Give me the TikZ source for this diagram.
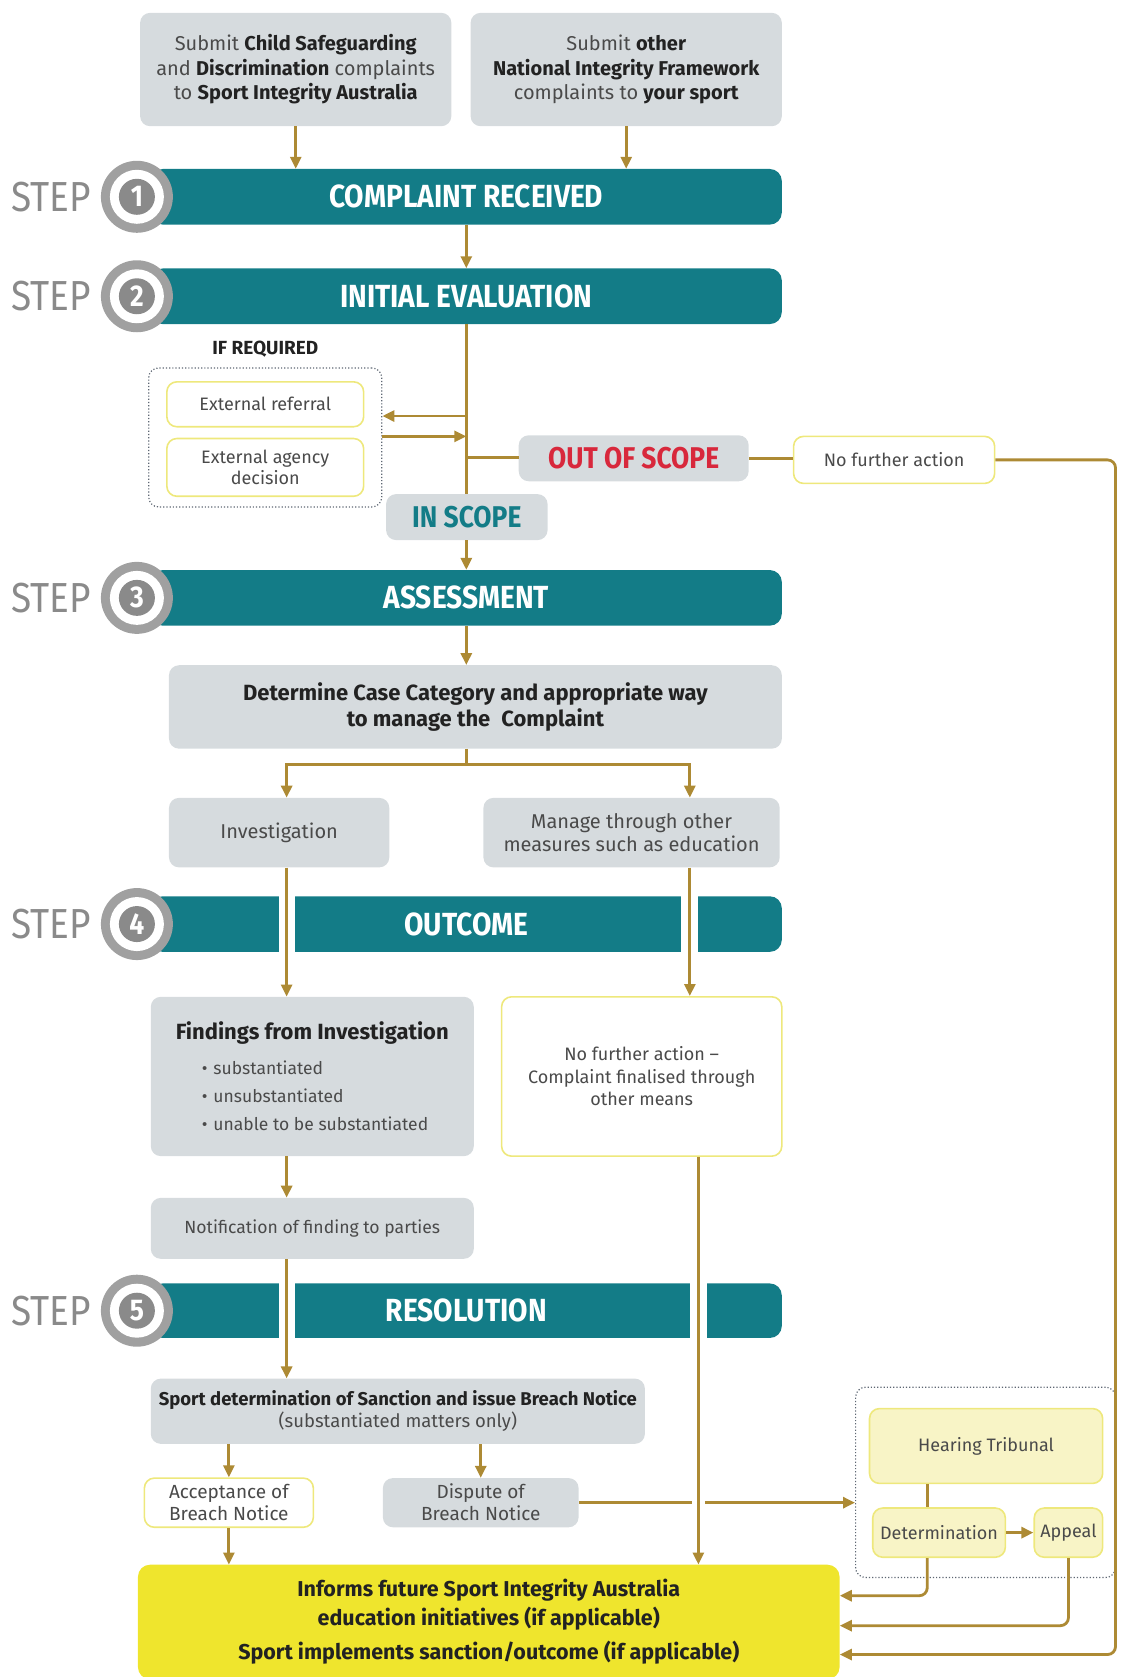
\documentclass[tikz,border=0pt]{standalone}
\usepackage{fontspec}
\setmainfont{Fira Sans}
\newfontfamily\condf{Fira Sans}[FakeStretch=0.88]
\usetikzlibrary{arrows.meta}
\definecolor{teal1}{HTML}{137C87}
\definecolor{boxgray}{HTML}{D6DBDE}
\definecolor{gold}{HTML}{AD8A34}
\definecolor{ybord}{HTML}{EEE87C}
\definecolor{yfill}{HTML}{EFE52D}
\definecolor{lyfill}{HTML}{F8F4C6}
\definecolor{ringgray}{HTML}{A0A0A0}
\definecolor{diskgray}{HTML}{8A8A8A}
\definecolor{stepgray}{HTML}{8A8A8A}
\definecolor{txt}{HTML}{4A4A4A}
\definecolor{txtd}{HTML}{222222}
\definecolor{oosred}{HTML}{D8283C}
\definecolor{dotc}{HTML}{5E6773}
\newcommand{\fs}[2]{\fontsize{#1}{#2}\selectfont}
\newcommand{\bt}[1]{{\bfseries\color{txtd}#1}}
\begin{document}
\begin{tikzpicture}[x=1.0697pt,y=-1.0697pt,
  corners/.style args={#1/#2/#3/#4}{minimum width={(#3-#1)*1.0697pt}, minimum height={(#4-#2)*1.0697pt}, at={({(#1+#3)/2},{(#2+#4)/2})}},
  gbox/.style={fill=boxgray, rounded corners=10pt, inner sep=0pt, align=center, text=txt},
  ybox/.style={draw=ybord, line width=1.6pt, fill=white, rounded corners=10pt, inner sep=0pt, align=center, text=txt},
  lybox/.style={draw=ybord, line width=1.6pt, fill=lyfill, rounded corners=10pt, inner sep=0pt, align=center, text=txt, font=\fs{18}{22}},
  bar/.style={fill=teal1, rounded corners=12pt, inner sep=0pt, text=white, font=\condf\fs{32}{36}\bfseries},
  conn/.style={draw=gold, line width=2.8pt},
  arr/.style={conn, -{Triangle[length=12pt,width=11pt]}},
  dotbox/.style={draw=dotc, dotted, line width=1.2pt, rounded corners=10pt, inner sep=0pt},
  ringo/.style={circle, fill=ringgray, minimum size=72pt, inner sep=0pt},
  ringw/.style={circle, fill=white, minimum size=54pt, inner sep=0pt},
  ringi/.style={circle, fill=diskgray, minimum size=36pt, inner sep=0pt, text=white, font=\condf\fs{30}{30}\bfseries},
  steptxt/.style={text=stepgray, font=\condf\fs{42}{46}, inner sep=0pt}
]
\useasboundingbox (0,0) rectangle (1048,1568);

% top boxes
\node[gbox, corners=131/12/422/118, font=\fs{20}{24.5}] (s1) {Submit \bt{Child Safeguarding}\\and \bt{Discrimination} complaints\\to \bt{Sport Integrity Australia}};
\node[gbox, corners=440/12/731/118, font=\fs{20}{24.5}] (s2) {Submit \bt{other}\\\bt{National Integrity Framework}\\complaints to \bt{your sport}};

% bars
\node[bar, corners=141/158/731/210] (b1) {COMPLAINT RECEIVED};
\node[bar, corners=141/251/731/303] (b2) {INITIAL EVALUATION};
\node[bar, corners=141/533/731/585] (b3) {ASSESSMENT};
\node[bar, corners=141/838/731/890] (b4) {OUTCOME};
\node[bar, corners=141/1200/731/1251] (b5) {RESOLUTION};

% gaps in bars 4 and 5
\fill[white] (261,836) rectangle (276,892);
\fill[white] (637,836) rectangle (653,892);
\fill[white] (261,1198) rectangle (276,1253);
\fill[white] (645,1198) rectangle (661,1253);

% step badges
\foreach \n/\y in {1/184,2/277,3/559,4/864,5/1225.5}{
  \node[steptxt] (st\n) at (48,\y) {STEP};
  \node[ringo] (co\n) at (128,\y) {};
  \node[ringw] (cw\n) at (128,\y) {};
  \node[ringi] (ci\n) at (128,\y) {\n};
}

% step 2 area
\node[font=\fs{19}{22}\bfseries, text=txtd] (ifr) at (248,326) {IF REQUIRED};
\node[dotbox, corners=139/344/357/474] (dot1) {};
\node[ybox, corners=156/357/340/399, font=\fs{18}{22}] (ext1) {External referral};
\node[ybox, corners=156/410/340/464, font=\fs{18}{21}] (ext2) {External agency\\decision};
\node[gbox, corners=485/407/700/450, font=\condf\fs{30}{32}\bfseries, text=oosred] (oos) {OUT OF SCOPE};
\node[ybox, corners=742/408/930/452, font=\fs{18}{22}] (nfa) {No further action};
\node[gbox, corners=361/462/512/505, font=\condf\fs{30}{32}\bfseries, text=teal1] (ins) {IN SCOPE};

% step 3 area
\node[gbox, corners=158/622/731/700, font=\fs{22}{26}\bfseries, text=txtd] (det) {Determine Case Category and appropriate way\\to manage the\enspace Complaint};
\node[gbox, corners=158/746/364/811, font=\fs{20}{24}] (inv) {Investigation};
\node[gbox, corners=452/746/729/811, font=\fs{20}{23.5}] (man) {Manage through other\\measures such as education};

% step 4 area
\node[gbox, corners=141/932/443/1081, align=left, font=\fs{17.5}{28}] (find) {{\fs{22}{26}\bfseries\color{txtd}Findings from Investigation}\\[7pt]
\hspace*{26pt}\textbullet\hspace{6pt}substantiated\\
\hspace*{26pt}\textbullet\hspace{6pt}unsubstantiated\\
\hspace*{26pt}\textbullet\hspace{6pt}unable to be substantiated};
\node[ybox, corners=469/932/731/1081, font=\fs{18}{22.5}] (nfa2) {No further action --\\Complaint finalised through\\other means};
\node[gbox, corners=141/1120/443/1177, font=\fs{17.6}{22}] (notif) {Notification of finding to parties};

% step 5 area
\node[gbox, corners=141/1289/603/1350, font=\fs{18.5}{22}] (sport) {\bt{Sport determination of Sanction and issue Breach Notice}\\(substantiated matters only)};
\node[ybox, corners=135/1382/293/1428, font=\fs{19}{22}] (acc) {Acceptance of\\Breach Notice};
\node[gbox, corners=358/1382/541/1428, font=\fs{19}{22}] (disp) {Dispute of\\Breach Notice};
\node[fill=yfill, rounded corners=12pt, inner sep=0pt, corners=129/1463/785/1570, align=center, font=\fs{21.5}{29}\bfseries, text=txtd] (yel) {Informs future Sport Integrity Australia\\education initiatives (if applicable)\\[5pt]Sport implements sanction/outcome (if applicable)};

\node[dotbox, corners=800/1297/1043/1475] (dot2) {};
\node[lybox, corners=813/1317/1031/1387] (hear) {Hearing Tribunal};
\node[lybox, corners=816/1410/940/1456] (dtm) {Determination};
\node[lybox, corners=967/1410/1031/1456] (app) {Appeal};

% helper coordinates
\coordinate (va) at (436,389);
\coordinate (vb) at (436,408);
\coordinate (vc) at (436,428);
\coordinate (rc) at (1043,1547);
\coordinate (sp) at (436,715);
\coordinate (xl) at (268,0);
\coordinate (xr) at (645,0);
\coordinate (xr2) at (653,0);
\coordinate (xd) at (867,0);
\coordinate (ya) at (0,1492);
\coordinate (yb) at (0,1520);

% connectors
\draw[arr] (s1.south) -- (s1.south |- b1.north);
\draw[arr] (s2.south) -- (s2.south |- b1.north);
\draw[arr] (b1.south) -- (b2.north);
\draw[conn] (b2.south) -- (b2.south |- ins.north);
\draw[arr] (b2.south |- ins.south) -- (b3.north);
\draw[arr] (va) -- (va -| dot1.east);
\draw[arr] (vb -| dot1.east) -- (vb);
\draw[conn] (vc) -- (vc -| oos.west);
\draw[conn] (oos.east) -- (oos.east -| nfa.west);
\draw[arr, rounded corners=8pt] (nfa.east) -| (rc) -- (rc -| yel.east);

\draw[arr] (b3.south) -- (b3.south |- det.north);
\draw[conn] (b3.south |- det.south) -- (sp);
\draw[arr] (sp) -| (xl |- inv.north);
\draw[arr] (sp) -| (xr |- man.north);
\draw[arr] (xl |- inv.south) -- (xl |- find.north);
\draw[arr] (xr |- man.south) -- (xr |- nfa2.north);
\draw[arr] (xl |- find.south) -- (xl |- notif.north);
\draw[arr] (xl |- notif.south) -- (xl |- sport.north);
\draw[arr] (acc.north |- sport.south) -- (acc.north);
\draw[arr] (disp.north |- sport.south) -- (disp.north);
\draw[arr] (acc.south) -- (acc.south |- yel.north);
\draw[arr] (disp.east) -- (disp.east -| dot2.west);
\fill[white] (647,1399) rectangle (659,1411);
\draw[arr] (xr2 |- nfa2.south) -- (xr2 |- yel.north);
\draw[conn] (xd |- hear.south) -- (xd |- dtm.north);
\draw[arr] (dtm.east) -- (app.west);
\draw[arr, rounded corners=8pt] (xd |- dtm.south) |- (yel.east |- ya);
\draw[arr, rounded corners=8pt] (app.south) |- (yel.east |- yb);
\end{tikzpicture}
\end{document}
